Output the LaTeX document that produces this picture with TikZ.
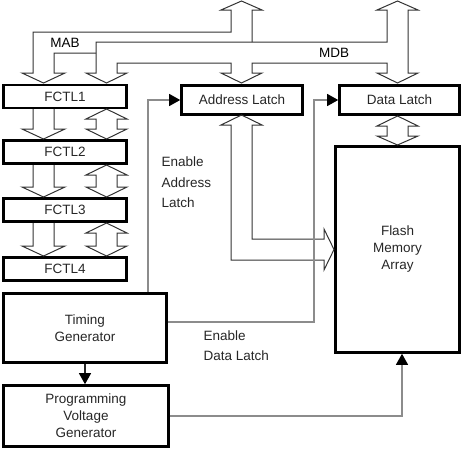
\documentclass[tikz,border=0pt]{standalone}
\usepackage{fontspec}
\setmainfont{Liberation Sans}
\usepackage{tikz}
\usetikzlibrary{arrows.meta, positioning}
\tikzstyle{blk} = [draw=black, line width=2.6pt, inner sep=0pt, align=center, text=black!85]
\tikzstyle{bus} = [draw=black!80, line width=1pt, line join=miter]
\tikzstyle{ctrl} = [draw=black!45, line width=1.2pt, -{Triangle[length=11pt,width=12pt,color=black]}]
\tikzstyle{lbl} = [align=left, text=black!85, font=\fontsize{13.5}{20.5}\selectfont]
\def\fatdown#1#2{\draw[bus] (33,#1) -- (33,{#2-10}) -- (22,{#2-10}) -- (43.5,#2) -- (65,{#2-10}) -- (54,{#2-10}) -- (54,#1);}
\def\fatboth#1#2{\draw[bus] (96,{#1+10}) -- (86,{#1+10}) -- (106.5,#1) -- (127,{#1+10}) -- (117,{#1+10}) -- (117,{#2-10}) -- (127,{#2-10}) -- (106.5,#2) -- (86,{#2-10}) -- (96,{#2-10}) -- cycle;}

\begin{document}
\begin{tikzpicture}[x=1pt, y=-1pt, font=\fontsize{13.5}{17}\selectfont]
    \useasboundingbox (0,0) rectangle (462,450);

    % register stack
    \node[blk, minimum width=123pt, minimum height=23pt] (f1) at (65,96.5) {FCTL1};
    \node[blk, minimum width=123pt, minimum height=23pt] (f2) at (65,152) {FCTL2};
    \node[blk, minimum width=123pt, minimum height=23pt] (f3) at (65,210) {FCTL3};
    \node[blk, minimum width=123pt, minimum height=23pt] (f4) at (65,269) {FCTL4};
    \node[blk, minimum width=163pt, minimum height=69pt] (tg) at (85,328) {Timing\\Generator};
    \node[blk, minimum width=165pt, minimum height=61pt] (pvg) at (86,416) {Programming\\Voltage\\Generator};

    % latches and array
    \node[blk, minimum width=121pt, minimum height=29pt] (al) at (242,100) {Address Latch};
    \node[blk, minimum width=120pt, minimum height=29pt] (dl) at (399.5,100) {Data Latch};
    \node[blk, minimum width=124pt, minimum height=206pt] (fm) at (397.5,249.5) {Flash\\Memory\\Array};

    % MAB
    \draw[bus] (252,42) -- (252,10) -- (262,10) -- (241.5,1) -- (221,10) -- (231,10) -- (231,32)
        -- (33,32) -- (33,73) -- (22,73) -- (43.5,83) -- (65,73) -- (54,73) -- (54,53) -- (96,53);
    % MDB
    \draw[bus] (96,42) -- (387,42) -- (387,10) -- (377,10) -- (397.5,1) -- (418,10) -- (408,10)
        -- (408,73) -- (418,73) -- (397.5,83) -- (377,73) -- (387,73) -- (387,63)
        -- (252,63) -- (252,73) -- (262,73) -- (241.5,83) -- (221,73) -- (231,73) -- (231,63)
        -- (117,63) -- (117,73) -- (127,73) -- (106.5,83) -- (86,73) -- (96,73) -- cycle;
    \node (mab) at (65,43) {MAB};
    \node (mdb) at (334,53) {MDB};

    \fatdown{109}{139}
    \fatdown{165}{197}
    \fatdown{223}{256}
    \fatboth{109}{139}
    \fatboth{165}{197}
    \fatboth{223}{256}

    % latch to array
    \draw[bus] (397.5,116) -- (418,126) -- (408,126) -- (408,136) -- (418,136) -- (397.5,145)
        -- (377,136) -- (387,136) -- (387,126) -- (377,126) -- cycle;
    \draw[bus] (241.5,115) -- (262,125) -- (252,125) -- (252,239) -- (324,239) -- (324,229)
        -- (334,249.5) -- (324,270) -- (324,260) -- (231,260) -- (231,125) -- (221,125) -- cycle;

    % control lines
    \coordinate (eal) at (148,0);
    \coordinate (edl) at (314,0);
    \draw[ctrl] (tg.north -| eal) |- (al.west);
    \draw[ctrl] ([yshift=6pt]tg.east) -| (edl |- dl.west) -- (dl.west);
    \draw[ctrl] (pvg.east) -| ([xshift=4.5pt]fm.south);
    \draw[ctrl, draw=black!85] (tg.south) -- (tg.south |- pvg.north);

    \node[lbl, anchor=west] (ealtxt) at (158,182.5) {Enable\\Address\\Latch};
    \node[lbl, anchor=west] (edltxt) at (200,345.5) {Enable\\Data Latch};
\end{tikzpicture}
\end{document}
